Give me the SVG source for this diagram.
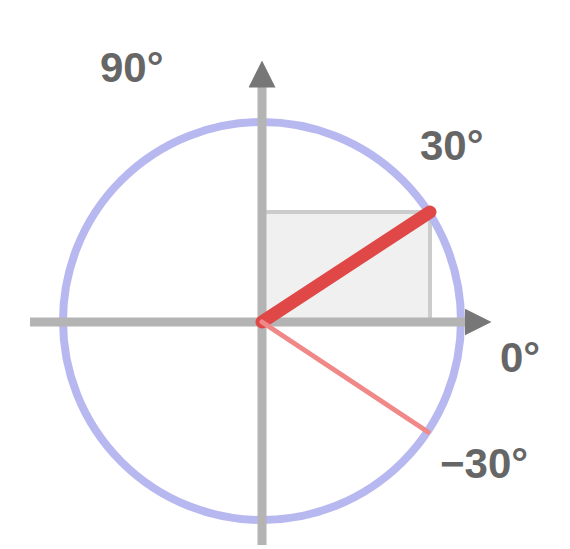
<svg xmlns="http://www.w3.org/2000/svg" width="570" height="549" viewBox="0 0 570 549">
<style>
.axis{stroke:#b4b4b4;stroke-width:9;fill:none}
.proj{stroke:#cccccc;stroke-width:4;fill:none}
.lbl{font-family:"Liberation Sans",Arial,sans-serif;font-size:42px;fill:#666;font-weight:bold}
</style>
<defs>
<marker id="ah" viewBox="0 0 10 10" refX="5" refY="5" markerWidth="3" markerHeight="3" orient="auto-start-reverse">
<path d="M0,0 L10,5 L0,10 z" fill="#777"/>
</marker>
</defs>
<rect width="570" height="549" fill="#fff"/>
<g id="projection">
<rect x="262" y="212" width="168" height="110" fill="#f0f0f0" stroke="none"/>
<path class="proj" d="M262,212 H430 V322"/>
</g>
<g id="circle">
<circle cx="262" cy="321" r="199" fill="none" stroke="#b8b8f0" stroke-width="8"/>
</g>
<g id="connectors">
<line class="axis" x1="30" y1="322" x2="478" y2="322" marker-end="url(#ah)"/>
<line class="axis" x1="262" y1="545" x2="262" y2="74" marker-end="url(#ah)"/>
<line x1="262" y1="322" x2="430" y2="212" stroke="#e04848" stroke-width="13" stroke-linecap="round"/>
<line x1="262" y1="322" x2="428" y2="432" stroke="#f08888" stroke-width="5" stroke-linecap="round"/>
</g>
<g id="labels">
<text class="lbl" x="100" y="82">90°</text>
<text class="lbl" x="420" y="160">30°</text>
<text class="lbl" x="500" y="372">0°</text>
<text class="lbl" x="440" y="478">−30°</text>
</g>
</svg>
